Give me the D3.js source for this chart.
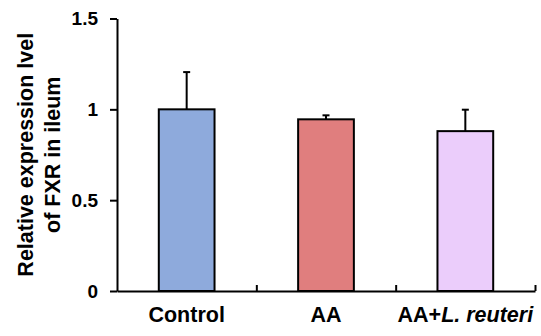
<!DOCTYPE html>
<html>
    <head>
        <style>
            body { margin: 0; background: #fff; }
            svg text { font-family: "Liberation Sans", Arial, sans-serif; font-weight: bold; fill: #000; }
        </style>
        <script src="https://cdnjs.cloudflare.com/ajax/libs/d3/7.8.5/d3.min.js"></script>
    </head>
    <body>
        <div id="chart"></div>
        <script>
            const categories = ["Control", "AA", "AA+L. reuteri"];
            const means = [1.0, 0.945, 0.88];
            const errors = [0.205, 0.022, 0.118];
            const yTicks = [0, 0.5, 1, 1.5];
            const barColors = ["#8eaadc", "#e07e7e", "#ebcdfb"];

            const w = 541, h = 336;
            const plotLeft = 117, plotRight = 535, plotTop = 18.5, plotBottom = 291;

            const svg = d3.select("#chart").append("svg")
                .attr("width", w)
                .attr("height", h);

            const x = d3.scaleBand()
                .domain(categories)
                .range([plotLeft, plotRight])
                .paddingInner(0.6)
                .paddingOuter(0.3);

            const y = d3.scaleLinear()
                .domain([0, 1.5])
                .range([plotBottom, plotTop]);

            // bars
            svg.selectAll("rect.bar")
                .data(categories)
                .enter()
                .append("rect")
                .attr("class", "bar")
                .attr("x", d => x(d))
                .attr("y", (d, i) => y(means[i]))
                .attr("width", x.bandwidth())
                .attr("height", (d, i) => y(0) - y(means[i]))
                .attr("fill", (d, i) => barColors[i])
                .attr("stroke", "#000")
                .attr("stroke-width", 2);

            // error bars (upper only)
            const eb = svg.selectAll("g.err")
                .data(categories)
                .enter()
                .append("g")
                .attr("class", "err")
                .attr("stroke", "#000")
                .attr("stroke-width", 2);
            eb.append("line")
                .attr("x1", d => x(d) + x.bandwidth() / 2)
                .attr("x2", d => x(d) + x.bandwidth() / 2)
                .attr("y1", (d, i) => y(means[i]))
                .attr("y2", (d, i) => y(means[i] + errors[i]));
            eb.append("line")
                .attr("x1", d => x(d) + x.bandwidth() / 2 - 3.5)
                .attr("x2", d => x(d) + x.bandwidth() / 2 + 3.5)
                .attr("y1", (d, i) => y(means[i] + errors[i]))
                .attr("y2", (d, i) => y(means[i] + errors[i]));

            // y axis
            const yAxis = svg.append("g")
                .attr("transform", "translate(" + plotLeft + ",0)")
                .call(d3.axisLeft(y)
                    .tickValues(yTicks)
                    .tickSize(7)
                    .tickSizeOuter(0)
                    .tickPadding(12)
                    .tickFormat(d => String(d)));
            yAxis.selectAll("path, line").attr("stroke", "#000").attr("stroke-width", 2);
            yAxis.selectAll("text").style("font-size", "19px");

            // x axis with ticks between the groups
            const xEdge = d3.scaleLinear().domain([0, categories.length]).range([plotLeft, plotRight]);
            const xAxis = svg.append("g")
                .attr("transform", "translate(0," + plotBottom + ")")
                .call(d3.axisTop(xEdge)
                    .tickValues(d3.range(1, categories.length + 1))
                    .tickSize(6)
                    .tickSizeOuter(0)
                    .tickFormat(""));
            xAxis.selectAll("path, line").attr("stroke", "#000").attr("stroke-width", 2);

            // category labels
            const lab = svg.selectAll("text.cat")
                .data(categories)
                .enter()
                .append("text")
                .attr("class", "cat")
                .attr("x", d => x(d) + x.bandwidth() / 2)
                .attr("y", 322)
                .attr("text-anchor", "middle")
                .style("font-size", "21.5px");
            lab.each(function(d) {
                const t = d3.select(this);
                if (d.indexOf("+") > -1) {
                    const parts = d.split("+");
                    t.append("tspan").text(parts[0] + "+");
                    t.append("tspan").style("font-style", "italic").text(parts[1]);
                } else {
                    t.text(d);
                }
            });

            // y title
            const yMid = (plotTop + plotBottom) / 2;
            svg.append("text")
                .attr("transform", "translate(33," + yMid + ") rotate(-90)")
                .attr("text-anchor", "middle")
                .style("font-size", "21.5px")
                .text("Relative expression lvel");
            svg.append("text")
                .attr("transform", "translate(60," + yMid + ") rotate(-90)")
                .attr("text-anchor", "middle")
                .style("font-size", "21.5px")
                .text("of FXR in ileum");
        </script>
    </body>
</html>
